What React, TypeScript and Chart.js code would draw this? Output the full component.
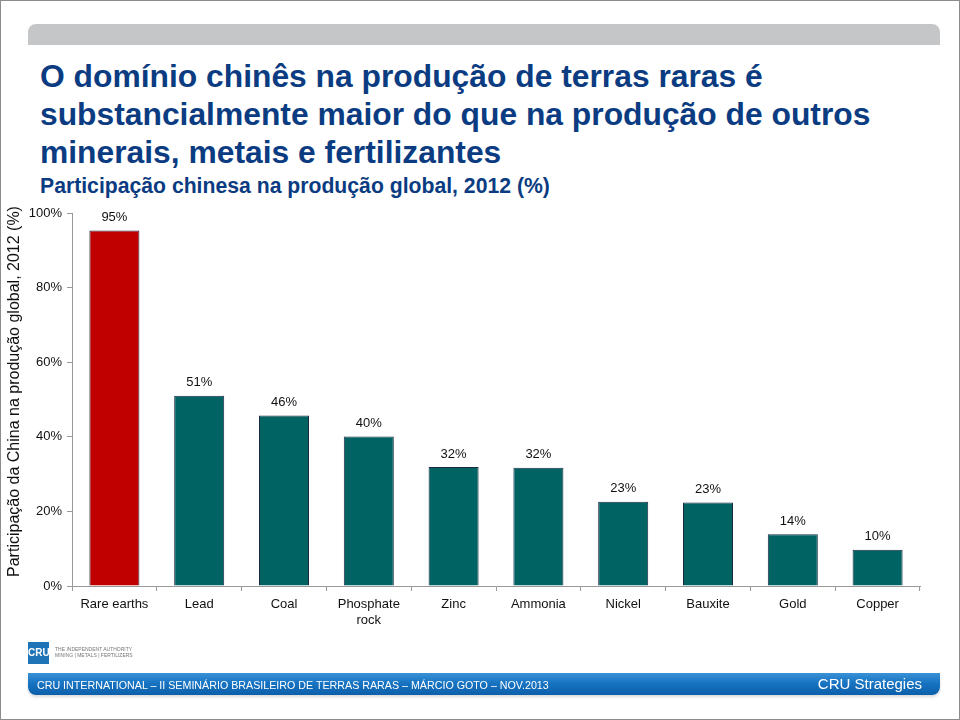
import React, { useEffect, useRef } from "react";
import { Chart, registerables } from "chart.js";

Chart.register(...registerables);

const categories: (string | string[])[] = [
  "Rare earths", "Lead", "Coal", ["Phosphate", "rock"], "Zinc",
  "Ammonia", "Nickel", "Bauxite", "Gold", "Copper",
];
const shares = [95.3, 51, 45.7, 40.1, 31.9, 31.7, 22.6, 22.4, 13.9, 9.7];
const shareLabels = ["95%", "51%", "46%", "40%", "32%", "32%", "23%", "23%", "14%", "10%"];
const barColors = ["#C00000", "#006363", "#006363", "#006363", "#006363", "#006363", "#006363", "#006363", "#006363", "#006363"];
const yTicks = [0, 20, 40, 60, 80, 100];
const yTitle = "Participação da China na produção global, 2012 (%)";

const FONT = "'Liberation Sans', Arial, sans-serif";

const labelPlugin = {
  id: "valueLabels",
  afterDatasetsDraw(chart: any) {
    const ctx = chart.ctx;
    const meta = chart.getDatasetMeta(0);
    ctx.save();
    ctx.font = `13px ${FONT}`;
    ctx.fillStyle = "#111";
    ctx.textAlign = "center";
    ctx.textBaseline = "middle";
    meta.data.forEach((bar: any, i: number) => {
      ctx.fillText(shareLabels[i], bar.x, bar.y - 13);
    });
    ctx.restore();
    // y-axis title
    const area = chart.chartArea;
    ctx.save();
    ctx.font = `16px ${FONT}`;
    ctx.fillStyle = "#111";
    ctx.textAlign = "center";
    ctx.textBaseline = "middle";
    ctx.translate(15, (area.top + area.bottom) / 2 - 8);
    ctx.rotate(-Math.PI / 2);
    ctx.fillText(yTitle, 0, 0);
    ctx.restore();
  },
};

export default function App() {
  const ref = useRef<HTMLCanvasElement>(null);
  useEffect(() => {
    if (!ref.current) return;
    const chart = new Chart(ref.current, {
      type: "bar",
      data: {
        labels: categories,
        datasets: [
          {
            data: shares,
            backgroundColor: barColors,
            borderColor: "#1E2B45",
            borderWidth: 1,
            barPercentage: 0.59,
            categoryPercentage: 1,
          },
        ],
      },
      options: {
        animation: false,
        responsive: false,
        maintainAspectRatio: false,
        layout: { padding: { top: 213, right: 40, left: 0, bottom: 0 } },
        plugins: { legend: { display: false }, tooltip: { enabled: false } },
        scales: {
          x: {
            afterFit: (s: any) => { s.height = 134; },
            grid: {
              drawOnChartArea: false,
              drawTicks: true,
              tickLength: 5,
              color: "#999",
              offset: true,
            },
            border: { color: "#999", width: 1 },
            ticks: {
              color: "#111",
              font: { family: FONT, size: 13 },
              padding: 6,
              maxRotation: 0,
              autoSkip: false,
            },
          },
          y: {
            min: 0,
            max: 100,
            afterFit: (s: any) => { s.width = 72; },
            afterBuildTicks: (s: any) => { s.ticks = yTicks.map((v) => ({ value: v })); },
            grid: {
              drawOnChartArea: false,
              drawTicks: true,
              tickLength: 5,
              color: "#999",
            },
            border: { color: "#999", width: 1 },
            ticks: {
              color: "#111",
              font: { family: FONT, size: 13 },
              padding: 5,
              callback: (v: any) => `${v}%`,
            },
          },
        },
      },
      plugins: [labelPlugin],
    });
    return () => chart.destroy();
  }, []);

  return (
    <div style={{ position: "fixed", left: 0, top: 0, width: 960, height: 720, background: "#fff", overflow: "hidden", fontFamily: FONT }}>
      <div style={{ position: "absolute", left: 0, top: 0, width: 958, height: 718, border: "1px solid #8c8c8c" }} />
      <div style={{ position: "absolute", left: 28, top: 24, width: 912, height: 21, background: "#C4C6C8", borderRadius: "8px 8px 0 0" }} />
      <div style={{ position: "absolute", left: 40, top: 57, fontSize: 31.8, lineHeight: "38px", fontWeight: "bold", color: "#0B3C82", whiteSpace: "nowrap" }}>
        <div>O domínio chinês na produção de terras raras é</div>
        <div>substancialmente maior do que na produção de outros</div>
        <div>minerais, metais e fertilizantes</div>
      </div>
      <div style={{ position: "absolute", left: 40, top: 174, fontSize: 21.2, lineHeight: "24px", fontWeight: "bold", color: "#0B3C82", whiteSpace: "nowrap" }}>
        Participação chinesa na produção global, 2012 (%)
      </div>
      <canvas ref={ref} width={960} height={720} style={{ position: "absolute", left: 0, top: 0, width: 960, height: 720 }} />
      <div style={{ position: "absolute", left: 28, top: 642, width: 21, height: 22, background: "#1F73B7", color: "#fff", fontSize: 10, fontWeight: "bold", lineHeight: "22px", textAlign: "center" }}>CRU</div>
      <div style={{ position: "absolute", left: 55, top: 646, fontSize: 5, lineHeight: "6px", color: "#777", whiteSpace: "nowrap" }}>
        <div>THE INDEPENDENT AUTHORITY</div>
        <div>MINING | METALS | FERTILIZERS</div>
      </div>
      <div style={{ position: "absolute", left: 28, top: 673, width: 912, height: 22, borderRadius: "0 0 8px 8px", background: "linear-gradient(180deg, #3A92D6 0%, #1874C2 45%, #0C5FAA 100%)", boxShadow: "0 2px 3px rgba(0,0,0,0.15)" }} />
      <div style={{ position: "absolute", left: 37, top: 677, fontSize: 10.7, lineHeight: "16px", color: "#fff", whiteSpace: "nowrap" }}>
        CRU INTERNATIONAL – II SEMINÁRIO BRASILEIRO DE TERRAS RARAS – MÁRCIO GOTO – NOV.2013
      </div>
      <div style={{ position: "absolute", right: 38, top: 675, fontSize: 15, lineHeight: "18px", color: "#fff", whiteSpace: "nowrap" }}>
        CRU Strategies
      </div>
    </div>
  );
}
